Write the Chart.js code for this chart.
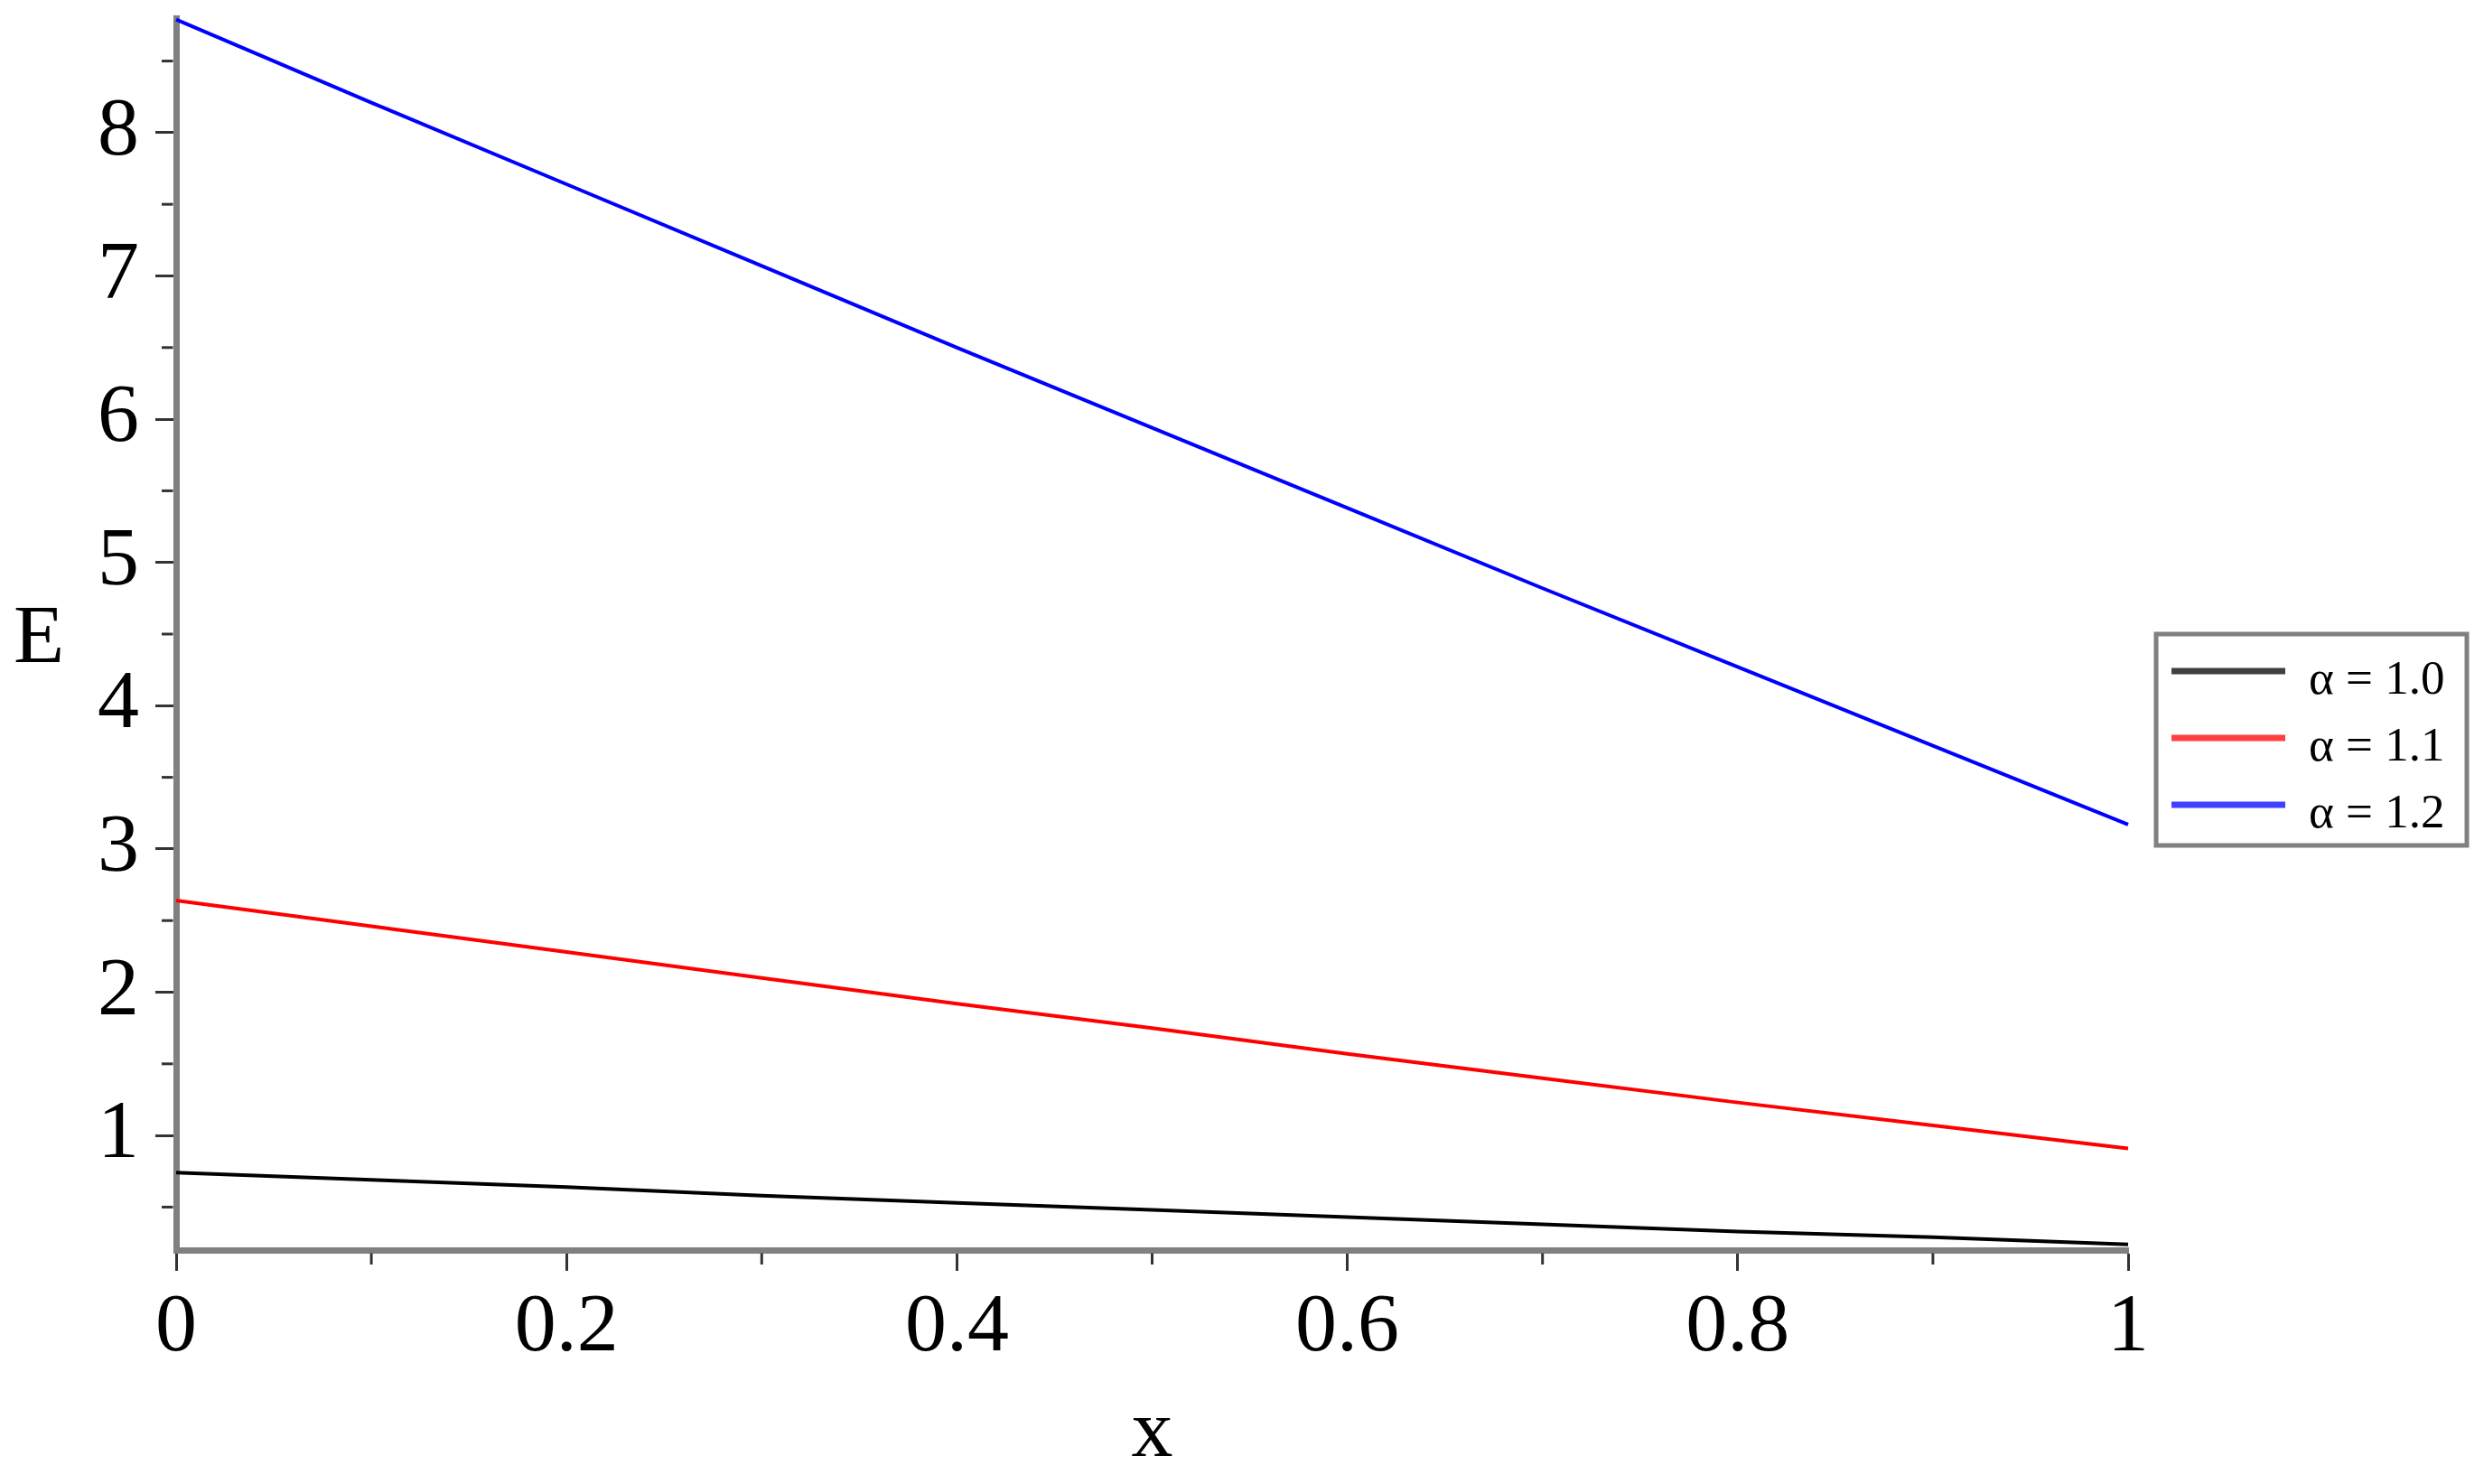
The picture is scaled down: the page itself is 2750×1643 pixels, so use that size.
<!DOCTYPE html>
<html>
<head>
<meta charset="utf-8">
<script src="https://cdn.jsdelivr.net/npm/chart.js@4.4.1/dist/chart.umd.min.js"></script>
<style>
  html, body { margin: 0; padding: 0; background: #ffffff; }
  #contenedor { width: 2750px; height: 1643px; }
</style>
</head>
<body>
<div id="contenedor"><canvas id="grafica" width="2750" height="1643"></canvas></div>
<script>
// Valores de x donde leemos las curvas
const xValores = [0, 0.1, 0.2, 0.3, 0.4, 0.5, 0.6, 0.7, 0.8, 0.9, 1];
// E para cada alfa
const alfa10 = [0.74, 0.69, 0.64, 0.58, 0.53, 0.48, 0.43, 0.38, 0.33, 0.29, 0.24];
const alfa11 = [2.64, 2.46, 2.28, 2.10, 1.92, 1.75, 1.57, 1.40, 1.23, 1.07, 0.91];
const alfa12 = [8.79, 8.21, 7.64, 7.07, 6.50, 5.94, 5.38, 4.82, 4.27, 3.72, 3.17];

// Leyenda y colores
const etiquetas = ['α = 1.0', 'α = 1.1', 'α = 1.2'];
const colores = ['#000000', '#ff0000', '#0000ff'];
const coloresLeyenda = ['#404040', '#ff4040', '#4040ff'];

// Marcas de los ejes
const ticksX = [0, 0.2, 0.4, 0.6, 0.8, 1];
const menoresX = [0.1, 0.3, 0.5, 0.7, 0.9];
const ticksY = [1, 2, 3, 4, 5, 6, 7, 8];
const menoresY = [0.5, 1.5, 2.5, 3.5, 4.5, 5.5, 6.5, 7.5, 8.5];

const fuente = '"Liberation Serif", "Times New Roman", serif';
const gris = '#808080';
const colorTick = '#333333';

// Juntamos x y E en puntos
function serie(valores) {
  return xValores.map((x, i) => ({ x: x, y: valores[i] }));
}

// Plugin para marcas menores, etiqueta E y la leyenda con caja
const extras = {
  id: 'extras',
  afterDraw(chart) {
    const c = chart.ctx;
    const area = chart.chartArea;
    const sx = chart.scales.x;
    const sy = chart.scales.y;
    c.save();
    c.strokeStyle = colorTick;
    c.lineWidth = 3;
    // marcas menores en y
    menoresY.forEach(v => {
      const y = sy.getPixelForValue(v);
      c.beginPath();
      c.moveTo(area.left - 3.5, y);
      c.lineTo(area.left - 16, y);
      c.stroke();
    });
    // marcas menores en x
    menoresX.forEach(v => {
      const x = sx.getPixelForValue(v);
      c.beginPath();
      c.moveTo(x, area.bottom + 3.5);
      c.lineTo(x, area.bottom + 16);
      c.stroke();
    });

    // etiqueta del eje y, horizontal
    c.fillStyle = '#000000';
    c.font = '92px ' + fuente;
    c.textAlign = 'center';
    c.textBaseline = 'alphabetic';
    c.fillText('E', 43, (area.top + area.bottom) / 2 + 31);

    // leyenda
    const bx = 2387, by = 702, bw = 344, bh = 234;
    c.fillStyle = '#ffffff';
    c.fillRect(bx, by, bw, bh);
    c.strokeStyle = gris;
    c.lineWidth = 5;
    c.strokeRect(bx, by, bw, bh);
    c.font = '53px ' + fuente;
    c.textAlign = 'left';
    etiquetas.forEach((t, i) => {
      const y = 743 + i * 74;
      c.strokeStyle = coloresLeyenda[i];
      c.lineWidth = 7;
      c.beginPath();
      c.moveTo(2404, y);
      c.lineTo(2530, y);
      c.stroke();
      c.fillStyle = '#000000';
      c.fillText(t, 2556, y + 25);
    });
    c.restore();
  }
};

const ctx = document.getElementById('grafica').getContext('2d');

const datos = {
  datasets: etiquetas.map((t, i) => ({
    label: t,
    data: serie([alfa10, alfa11, alfa12][i]),
    borderColor: colores[i],
    backgroundColor: colores[i],
    borderWidth: 4,
    pointRadius: 0,
    tension: 0,
    clip: 4
  }))
};

const config = {
  type: 'line',
  data: datos,
  options: {
    responsive: false,
    animation: false,
    devicePixelRatio: 1,
    layout: { padding: { top: 20, right: 394, left: 0, bottom: 0 } },
    plugins: {
      legend: { display: false },
      tooltip: { enabled: false }
    },
    scales: {
      x: {
        type: 'linear',
        min: 0,
        max: 1,
        afterBuildTicks: (s) => { s.ticks = ticksX.map(v => ({ value: v })); },
        afterFit: (s) => { s.height = 259; s.paddingLeft = 0; s.paddingRight = 0; },
        ticks: {
          color: '#000000',
          font: { family: fuente, size: 92 },
          padding: 9,
          maxRotation: 0,
          autoSkip: false,
          callback: (v) => String(v)
        },
        grid: {
          display: true,
          drawOnChartArea: false,
          drawTicks: true,
          tickLength: 23,
          tickColor: colorTick,
          tickWidth: 3
        },
        border: { display: true, color: gris, width: 7 },
        title: {
          display: true,
          text: 'x',
          color: '#000000',
          font: { family: fuente, size: 92 },
          padding: { top: 0, bottom: 0 }
        }
      },
      y: {
        type: 'linear',
        min: 0.2,
        max: 8.8,
        afterBuildTicks: (s) => { s.ticks = ticksY.map(v => ({ value: v })); },
        afterFit: (s) => { s.width = 195; s.paddingTop = 0; s.paddingBottom = 0; },
        ticks: {
          color: '#000000',
          font: { family: fuente, size: 92 },
          padding: 18,
          autoSkip: false,
          callback: (v) => String(v)
        },
        grid: {
          display: true,
          drawOnChartArea: false,
          drawTicks: true,
          tickLength: 23,
          tickColor: colorTick,
          tickWidth: 3
        },
        border: { display: true, color: gris, width: 7 }
      }
    }
  },
  plugins: [extras]
};

var miGrafica = new Chart(ctx, config);
</script>
</body>
</html>
